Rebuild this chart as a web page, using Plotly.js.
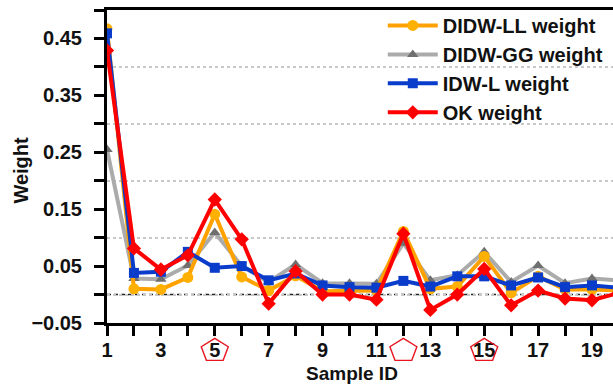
<!DOCTYPE html>
<html>
<head>
<meta charset="utf-8">
<script src="https://cdn.plot.ly/plotly-3.0.1.min.js"></script>
<style>
  html, body { margin: 0; padding: 0; background: #fff; }
  #chart { width: 613px; height: 386px; }
</style>
</head>
<body>
<div id="chart"></div>
<script>
// Sample identifiers along the x axis
const sampleIds = [1, 2, 3, 4, 5, 6, 7, 8, 9, 10, 11, 12, 13, 14, 15, 16, 17, 18, 19, 20];

// Interpolation weights per sample
const didwLLWeight = [0.467, 0.010, 0.009, 0.030, 0.141, 0.031, 0.007, 0.033, 0.006, 0.006,
                      0.007, 0.111, 0.010, 0.014, 0.067, 0.003, 0.032, 0.009, 0.009, 0.007];
const didwGGWeight = [0.255, 0.028, 0.027, 0.051, 0.109, 0.050, 0.022, 0.053, 0.020, 0.020,
                      0.019, 0.090, 0.025, 0.034, 0.075, 0.022, 0.051, 0.020, 0.028, 0.025];
const idwLWeight   = [0.459, 0.038, 0.040, 0.075, 0.047, 0.050, 0.025, 0.037, 0.016, 0.013,
                      0.012, 0.024, 0.014, 0.032, 0.032, 0.016, 0.030, 0.013, 0.016, 0.012];
const okWeight     = [0.429, 0.081, 0.044, 0.069, 0.167, 0.097, -0.016, 0.041, 0.000, 0.000,
                      -0.009, 0.107, -0.027, 0.000, 0.045, -0.019, 0.007, -0.007, -0.010, 0.003];

// Samples flagged with a pentagon under the axis
const flaggedSamples = [5, 12, 15];

const seriesNames = ['DIDW-LL weight', 'DIDW-GG weight', 'IDW-L weight', 'OK weight'];

const FONT = 'Liberation Sans, Arial, Helvetica, sans-serif';
const FS = 20;

function series(name, y, lineColor, markerColor, symbol, size, rank, legendId) {
  return {
    x: sampleIds, y: y, name: name, type: 'scatter', mode: 'lines+markers',
    line: { color: lineColor, width: 4 },
    marker: { color: markerColor, symbol: symbol, size: size, line: { width: 0 } },
    legendrank: rank, legend: legendId
  };
}

const traces = [
  series(seriesNames[1], didwGGWeight, '#ababab', '#6f6f6f', 'triangle-up', 10, 2, 'legend'),
  series(seriesNames[0], didwLLWeight, '#ffa200', '#ffb000', 'circle', 11, 1, 'legend'),
  series(seriesNames[2], idwLWeight, '#0a3ccc', '#0a3ccc', 'square', 10, 3, 'legend2'),
  series(seriesNames[3], okWeight, '#ff0000', '#ff0000', 'diamond', 11, 4, 'legend2')
];

// Pentagon outline (pixels, relative to its anchor, y pointing up)
const pentagonPath = 'M0,12.2 L13.5,3.8 L8.4,-9.8 L-8.4,-9.8 L-13.5,3.8 Z';

const flagShapes = flaggedSamples.map(id => ({
  type: 'path', xref: 'x', xsizemode: 'pixel', xanchor: id,
  yref: 'paper', ysizemode: 'pixel', yanchor: -0.088,
  path: pentagonPath,
  line: { color: '#e8141e', width: 1.4 }, fillcolor: 'rgba(0,0,0,0)', layer: 'above'
}));

const legendStyle = {
  xanchor: 'left', yanchor: 'top',
  bgcolor: 'rgba(0,0,0,0)', borderwidth: 0,
  font: { family: FONT, size: FS, color: '#111', weight: 'bold' },
  itemwidth: 50
};

const layout = {
  width: 613, height: 386,
  margin: { l: 107, r: 0, t: 10, b: 63 },
  paper_bgcolor: '#fff', plot_bgcolor: 'rgba(0,0,0,0)',
  font: { family: FONT, size: FS, color: '#111', weight: 'bold' },
  showlegend: true,
  legend: Object.assign({ x: 0.545, y: 1.013 }, legendStyle),
  legend2: Object.assign({ x: 0.545, y: 0.828 }, legendStyle),
  xaxis: {
    range: [1, 19.78], showline: true, linecolor: '#000', linewidth: 3, mirror: true,
    showgrid: false, zeroline: false,
    tick0: 1, dtick: 2, ticks: 'outside', ticklen: 10, tickwidth: 3, tickcolor: '#000',
    ticklabelstandoff: -3,
    minor: { tick0: 0, dtick: 1, ticks: 'outside', ticklen: 10, tickwidth: 3, tickcolor: '#000', showgrid: false },
    tickfont: { family: FONT, size: FS, weight: 'bold', color: '#111' }
  },
  yaxis: {
    range: [-0.05, 0.5], showline: true, linecolor: '#000', linewidth: 3,
    showgrid: false, zeroline: false,
    tick0: -0.05, dtick: 0.1, tickformat: '.2f',
    ticks: 'outside', ticklen: 10, tickwidth: 3, tickcolor: '#000',
    ticklabelstandoff: 8,
    minor: { tick0: 0, dtick: 0.1, ticks: 'outside', ticklen: 10, tickwidth: 3, tickcolor: '#000',
             showgrid: true, gridcolor: '#c8c8c8', griddash: 'dot', gridwidth: 2 },
    tickfont: { family: FONT, size: FS, weight: 'bold', color: '#111' }
  },
  shapes: [
    { type: 'line', xref: 'paper', x0: 0, x1: 1, yref: 'y', y0: 0, y1: 0,
      line: { color: '#222', width: 1.5, dash: '4px,3px' }, layer: 'below' }
  ].concat(flagShapes),
  annotations: [
    { text: 'Weight', xref: 'paper', yref: 'paper', x: -0.17, y: 0.49, textangle: -90,
      showarrow: false, xanchor: 'center', yanchor: 'middle',
      font: { family: FONT, size: FS, weight: 'bold', color: '#111' } },
    { text: 'Sample ID', xref: 'paper', yref: 'paper', x: 0.485, y: -0.16,
      showarrow: false, xanchor: 'center', yanchor: 'middle',
      font: { family: FONT, size: 19, weight: 'bold', color: '#111' } }
  ]
};

Plotly.newPlot('chart', traces, layout, { staticPlot: true, displayModeBar: false });
</script>
</body>
</html>
